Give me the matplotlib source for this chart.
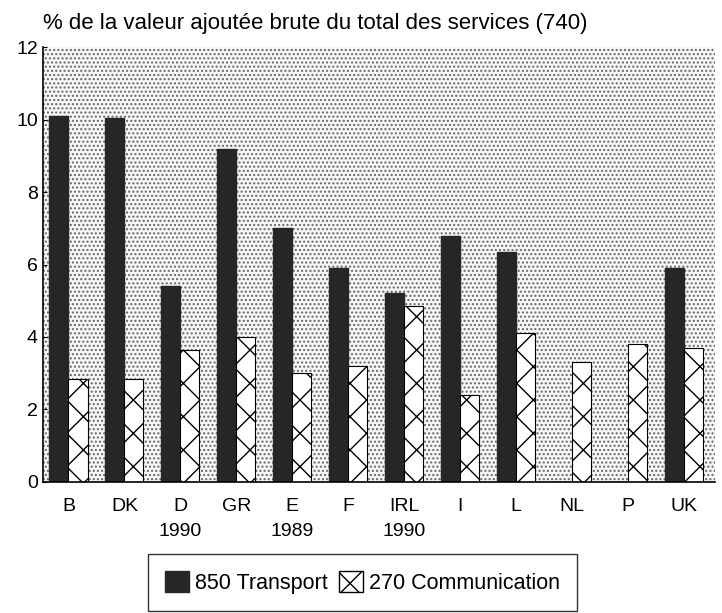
import matplotlib.pyplot as plt
import numpy as np
from matplotlib.patches import Patch, Rectangle

plt.rcParams['font.family'] = ['Liberation Sans', 'DejaVu Sans']
plt.rcParams['hatch.linewidth'] = 1.0

# data
countries = ['B', 'DK', 'D\n1990', 'GR', 'E\n1989', 'F', 'IRL\n1990', 'I', 'L', 'NL', 'P', 'UK']
transport = [10.1, 10.05, 5.4, 9.2, 7.0, 5.9, 5.2, 6.8, 6.35, 0, 0, 5.9]
communication = [2.85, 2.85, 3.65, 4.0, 3.0, 3.2, 4.85, 2.4, 4.1, 3.3, 3.8, 3.7]

fig = plt.figure(figsize=(7.22, 6.13), dpi=100)
ax = fig.add_axes([0.06, 0.214, 0.93, 0.709])

# dotted screen background
bg = Rectangle((0, 0), 1, 1, transform=ax.transAxes, facecolor='#f6f6f6',
               edgecolor='#666666', hatch='....', linewidth=0, zorder=0)
ax.add_patch(bg)

x = np.arange(len(countries))
w = 0.34
ax.bar(x - w / 2, transport, width=w, color='#262626', edgecolor='#262626', zorder=2)
ax.bar(x + w / 2, communication, width=w, color='white', edgecolor='black',
       hatch='x', linewidth=0.8, zorder=2)

ax.set_xlim(-0.45, 11.55)
ax.set_ylim(0, 12)
ax.set_yticks([0, 2, 4, 6, 8, 10, 12])
ax.set_xticks(x)
ax.set_xticklabels(countries, fontsize=14, linespacing=1.6, va='top')
ax.tick_params(axis='x', length=0, pad=12)
ax.tick_params(axis='y', labelsize=14, length=3, direction='in', pad=4)
for s in ['top', 'right']:
    ax.spines[s].set_visible(False)
ax.spines['left'].set_linewidth(1.2)
ax.spines['bottom'].set_linewidth(1.2)

fig.text(0.06, 0.962, '% de la valeur ajoutée brute du total des services (740)',
         fontsize=16, ha='left', va='center')

handles = [Patch(facecolor='#262626', edgecolor='#262626', label='850 Transport'),
           Patch(facecolor='white', edgecolor='black', hatch='x', label='270 Communication')]
fig.legend(handles=handles, loc='lower left', bbox_to_anchor=(0.205, 0.003), ncol=2,
           fontsize=15.5, frameon=True, fancybox=False, edgecolor='black',
           handlelength=1.1, handleheight=1.1, handletextpad=0.3, columnspacing=0.5,
           borderpad=0.8, borderaxespad=0)

fig.savefig('out.png', dpi=100)
